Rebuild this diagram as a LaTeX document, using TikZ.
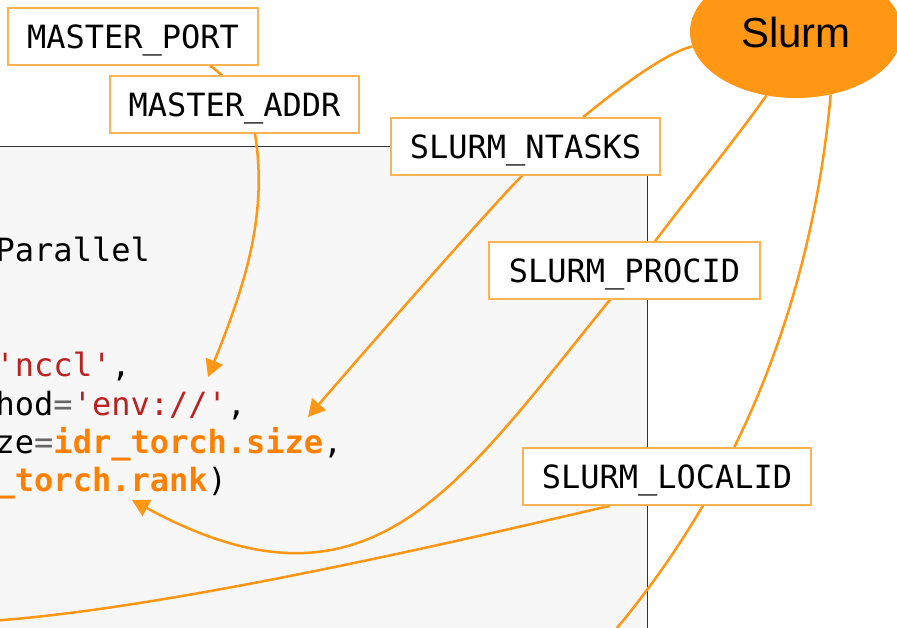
\documentclass[tikz,border=0pt]{standalone}
\usepackage{fontspec}
\setmainfont{Liberation Sans}
\setmonofont{DejaVu Sans Mono}
\usetikzlibrary{shapes.geometric,arrows.meta}
\definecolor{connc}{RGB}{255,150,20}
\definecolor{boxline}{RGB}{255,178,80}
\definecolor{slurmfill}{RGB}{255,150,20}
\definecolor{codebg}{RGB}{247,247,247}
\definecolor{codeframe}{RGB}{50,50,50}
\definecolor{strred}{RGB}{186,33,33}
\definecolor{opgray}{RGB}{102,102,102}
\definecolor{hiorange}{RGB}{255,128,0}
\pgfdeclarelayer{bg}
\pgfdeclarelayer{mid}
\pgfsetlayers{bg,mid,main}
\begin{document}
\begin{tikzpicture}[x=1pt,y=-1pt,
  envbox/.style={draw=boxline, line width=1.5pt, fill=white, inner sep=0pt,
    minimum height=57pt, font=\ttfamily\fontsize{32}{38}\selectfont,
    text height=23.3pt, text depth=0pt},
  codeline/.style={anchor=base west, inner sep=0pt, font=\ttfamily\fontsize{32}{38}\selectfont},
  link/.style={draw=connc, line width=2.5pt},
  arr/.style={link, -{Triangle[length=17pt,width=18pt]}},
  str/.style={text=strred},
]
\clip (0,0) rectangle (897,628);

% code panel
\begin{pgfonlayer}{bg}
  \node[draw=codeframe, fill=codebg, line width=1pt, inner sep=0pt, anchor=north east,
        minimum width=700pt, minimum height=520pt] (code) at (648,146) {};
  \node[codeline] (l1) at (-4.5,262) {Parallel};
  \node[codeline] (l2) at (-4.5,377) {\textcolor{strred}{'nccl'},};
  \node[codeline] (l3) at (-4.5,415) {hod\textcolor{opgray}{=}\textcolor{strred}{'env://'},};
  \node[codeline] (l4) at (-4.5,453) {ze\textcolor{opgray}{=}\textcolor{hiorange}{\bfseries idr\_torch.size},};
  \node[codeline] (l5) at (-4.5,491) {\textcolor{hiorange}{\bfseries \_torch.rank})};
\end{pgfonlayer}

% labels
\node[envbox, minimum width=250pt] (mp) at (133,36.5) {MASTER\_PORT};
\node[envbox, minimum width=249pt] (ma) at (234.5,104.5) {MASTER\_ADDR};
\node[envbox, minimum width=269pt] (nt) at (525.5,146.5) {SLURM\_NTASKS};
\node[envbox, minimum width=271pt] (pr) at (624.5,270.5) {SLURM\_PROCID};
\node[envbox, minimum width=288pt] (lo) at (667,476.5) {SLURM\_LOCALID};
\node[ellipse, fill=slurmfill, inner sep=0pt, minimum width=212pt, minimum height=132pt,
      font=\fontsize{42}{50}\selectfont] (sl) at (796,32) {Slurm};

% targets
\coordinate (t1) at (208,377);
\coordinate (t2) at (308,417);
\coordinate (t3) at (132,500);
\coordinate (ob) at (617,628);
\coordinate (ol) at (-10,621);

% connectors
\begin{pgfonlayer}{mid}
  \draw[link] ([xshift=77pt]mp.south) .. controls (215,69) and (219,73) .. ([xshift=-12.5pt]ma.north);
  \draw[arr] ([xshift=20.5pt]ma.south) .. controls (268,215) and (245,285) .. (t1);
  \draw[link] (sl.188) .. controls (665,52) and (610,95) .. ([xshift=57.5pt]nt.north);
  \draw[arr] ([xshift=-3.5pt]nt.south) .. controls (490,208) and (370,345) .. (t2);
  \draw[link] (sl.245) .. controls (735,140) and (690,195) .. ([xshift=30.5pt]pr.north);
  \draw[arr] ([xshift=-14.5pt]pr.south) .. controls (457,488) and (370,629.5) .. (t3);
  \draw[link] (sl.299) .. controls (812,300) and (740,480) .. (ob);
  \draw[link] ([xshift=-57pt]lo.south) .. controls (400,555) and (150,610) .. (ol);
\end{pgfonlayer}
\end{tikzpicture}
\end{document}
